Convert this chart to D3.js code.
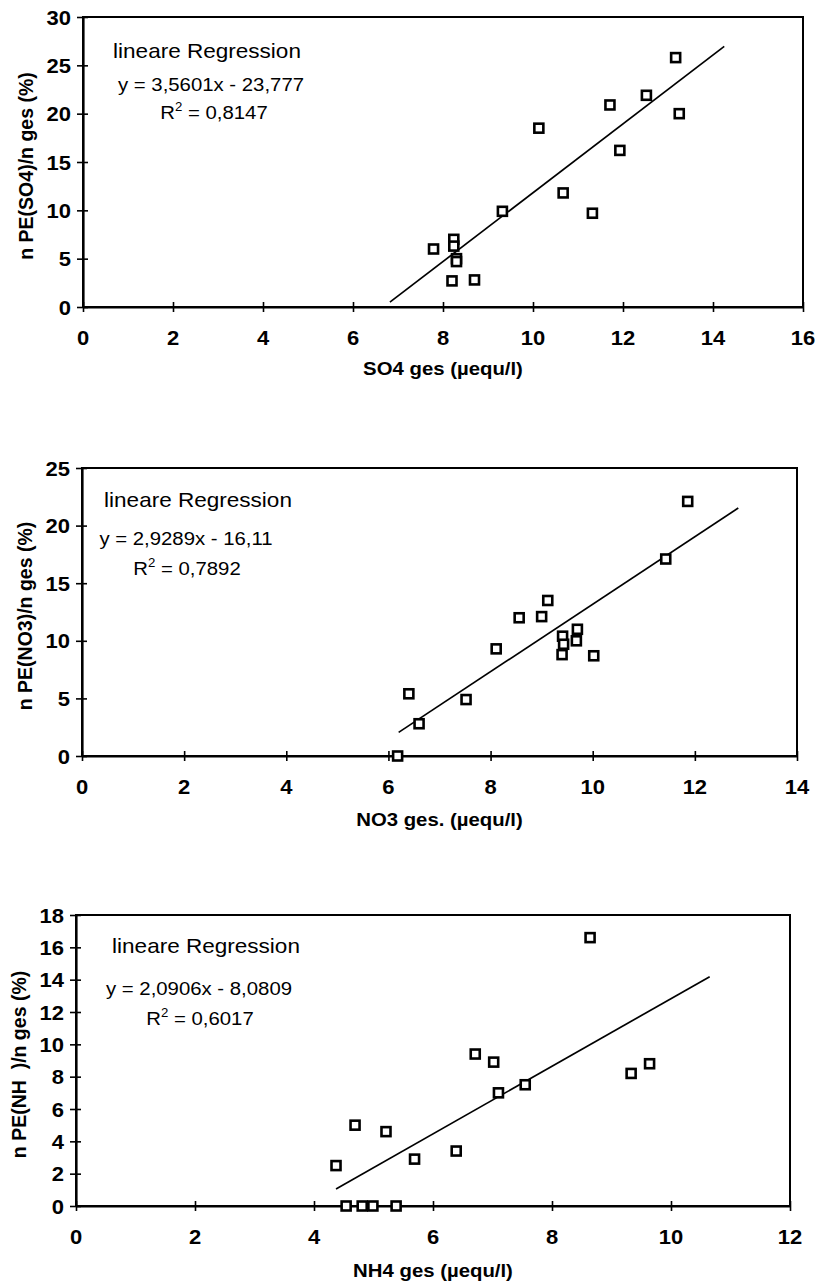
<!DOCTYPE html>
<html>
<head>
<meta charset="utf-8">
<script src="https://cdn.jsdelivr.net/npm/d3@7"></script>
<style>
  html, body { margin: 0; padding: 0; background: #fff; }
  svg { display: block; }
  text { font-family: "Liberation Sans", Arial, Helvetica, sans-serif; fill: #000; }
</style>
</head>
<body>
<svg id="chart" width="815" height="1288"></svg>
<script>
// ---------- SO4 panel ----------
const so4X = [13.17, 12.52, 11.71, 13.25, 10.13, 11.93, 10.67, 11.32, 9.32, 8.24, 8.24, 7.79, 8.30, 8.30, 8.20, 8.70];
const so4Y = [25.8, 21.9, 20.9, 20.0, 18.5, 16.2, 11.8, 9.7, 9.9, 7.0, 6.3, 6.0, 5.0, 4.7, 2.7, 2.8];
const so4XTicks = [0, 2, 4, 6, 8, 10, 12, 14, 16];
const so4YTicks = [0, 5, 10, 15, 20, 25, 30];
const so4Slope = 3.5601, so4Intercept = -23.777, so4R2 = "0,8147";
const so4TrendRange = [6.82, 14.25];

// ---------- NO3 panel ----------
const no3X = [11.86, 11.43, 9.12, 9.00, 8.56, 9.70, 9.41, 9.68, 9.43, 8.11, 9.40, 10.02, 6.40, 7.52, 6.60, 6.18];
const no3Y = [22.1, 17.1, 13.5, 12.1, 12.0, 11.0, 10.4, 10.0, 9.7, 9.3, 8.8, 8.7, 5.4, 4.9, 2.8, 0];
const no3XTicks = [0, 2, 4, 6, 8, 10, 12, 14];
const no3YTicks = [0, 5, 10, 15, 20, 25];
const no3Slope = 2.9289, no3Intercept = -16.11, no3R2 = "0,7892";
const no3TrendRange = [6.2, 12.85];

// ---------- NH4 panel ----------
const nh4X = [4.37, 4.69, 5.21, 5.69, 4.54, 4.81, 4.99, 5.38, 6.39, 6.71, 7.02, 7.10, 7.55, 8.64, 9.33, 9.64];
const nh4Y = [2.5, 5.0, 4.6, 2.9, 0, 0, 0, 0, 3.4, 9.4, 8.9, 7.0, 7.5, 16.6, 8.2, 8.8];
const nh4XTicks = [0, 2, 4, 6, 8, 10, 12];
const nh4YTicks = [0, 2, 4, 6, 8, 10, 12, 14, 16, 18];
const nh4Slope = 2.0906, nh4Intercept = -8.0809, nh4R2 = "0,6017";
const nh4TrendRange = [4.37, 10.65];

const heading = "lineare Regression";
const xTitles = ["SO4 ges (\u00b5equ/l)", "NO3 ges. (\u00b5equ/l)", "NH4 ges (\u00b5equ/l)"];
const yTitles = ["n PE(SO4)/n ges (%)", "n PE(NO3)/n ges (%)", "n PE(NH  )/n ges (%)"];

// panel frames (pixel boxes) and annotation anchors
const panels = [
  { xs: so4X, ys: so4Y, xTicks: so4XTicks, yTicks: so4YTicks, slope: so4Slope, icpt: so4Intercept, r2: so4R2, trend: so4TrendRange,
    box: { l: 83, r: 803, t: 17, b: 307 }, xTitleY: 375, yTitleX: 26,
    head: [207, 58], eq: [211, 91], r2pos: [214, 119] },
  { xs: no3X, ys: no3Y, xTicks: no3XTicks, yTicks: no3YTicks, slope: no3Slope, icpt: no3Intercept, r2: no3R2, trend: no3TrendRange,
    box: { l: 82, r: 797, t: 468, b: 756 }, xTitleY: 826, yTitleX: 25,
    head: [198, 507], eq: [186, 545], r2pos: [187, 575] },
  { xs: nh4X, ys: nh4Y, xTicks: nh4XTicks, yTicks: nh4YTicks, slope: nh4Slope, icpt: nh4Intercept, r2: nh4R2, trend: nh4TrendRange,
    box: { l: 76, r: 790, t: 915, b: 1206 }, xTitleY: 1277, yTitleX: 19,
    head: [206, 953], eq: [199, 995], r2pos: [200, 1025] }
];

const SX = 1.1; // horizontal text widening
const svg = d3.select("#chart");
const deComma = v => String(v).replace(".", ",");

// text placed at (x,y), widened horizontally around its anchor
function wideText(parent, x, y, str, size, weight, anchor) {
  return parent.append("g")
    .attr("transform", `translate(${x},${y}) scale(${SX},1)`)
    .append("text")
    .attr("text-anchor", anchor || "middle")
    .attr("font-size", size)
    .attr("font-weight", weight || "normal")
    .style("white-space", "pre")
    .text(str);
}

panels.forEach((p, i) => {
  const g = svg.append("g");
  const { l, r, t, b } = p.box;
  const xMax = p.xTicks[p.xTicks.length - 1];
  const yMax = p.yTicks[p.yTicks.length - 1];
  const x = d3.scaleLinear().domain([0, xMax]).range([l, r]);
  const y = d3.scaleLinear().domain([0, yMax]).range([b, t]);

  // plot frame
  g.append("rect")
    .attr("x", l).attr("y", t).attr("width", r - l).attr("height", b - t)
    .attr("fill", "none").attr("stroke", "#000").attr("stroke-width", 2);

  // axes with ticks crossing the axis line
  const xa = g.append("g").attr("transform", `translate(0,${b})`)
    .call(d3.axisBottom(x).tickValues(p.xTicks).tickSizeOuter(0).tickFormat(""));
  xa.select(".domain").attr("stroke-width", 2.2);
  xa.selectAll(".tick line").attr("y1", -5).attr("y2", 5).attr("stroke-width", 1.6);

  const ya = g.append("g").attr("transform", `translate(${l},0)`)
    .call(d3.axisLeft(y).tickValues(p.yTicks).tickSizeOuter(0).tickFormat(""));
  ya.select(".domain").attr("stroke-width", 2.2);
  ya.selectAll(".tick line").attr("x1", 5).attr("x2", -6).attr("stroke-width", 1.6);

  // tick labels
  p.xTicks.forEach(v => wideText(g, x(v), b + 38, String(v), 20, "bold", "middle"));
  p.yTicks.forEach(v => wideText(g, l - 12, y(v) + 7.5, String(v), 20, "bold", "end"));

  // axis titles
  wideText(g, (l + r) / 2, p.xTitleY, xTitles[i], 18.5, "bold", "middle");
  g.append("text")
    .attr("transform", `translate(${p.yTitleX},${(t + b) / 2 + 4}) rotate(-90)`)
    .attr("text-anchor", "middle").attr("dy", "0.35em")
    .attr("font-size", 19.5).attr("font-weight", "bold")
    .style("white-space", "pre")
    .text(yTitles[i]);

  // regression line from the stated equation
  const trendPts = p.trend.map(v => [v, p.slope * v + p.icpt]);
  g.append("path")
    .attr("d", d3.line().x(d => x(d[0])).y(d => y(d[1]))(trendPts))
    .attr("fill", "none").attr("stroke", "#000").attr("stroke-width", 1.7);

  // square markers
  const pts = p.xs.map((v, k) => [v, p.ys[k]]);
  const s = 9;
  g.selectAll("rect.pt").data(pts).join("rect")
    .attr("class", "pt")
    .attr("x", d => x(d[0]) - s / 2).attr("y", d => y(d[1]) - s / 2)
    .attr("width", s).attr("height", s)
    .attr("fill", "#fff").attr("stroke", "#000").attr("stroke-width", 2.6);

  // regression annotation
  wideText(g, p.head[0], p.head[1], heading, 20.5, "normal", "middle");
  const sign = p.icpt < 0 ? " - " : " + ";
  wideText(g, p.eq[0], p.eq[1], `y = ${deComma(p.slope)}x${sign}${deComma(Math.abs(p.icpt))}`, 18.5, "normal", "middle");
  const rt = wideText(g, p.r2pos[0], p.r2pos[1], "", 18.5, "normal", "middle");
  rt.append("tspan").text("R");
  rt.append("tspan").attr("font-size", 12).attr("dy", -8).text("2");
  rt.append("tspan").attr("dy", 8).text(` = ${p.r2}`);
});
</script>
</body>
</html>
